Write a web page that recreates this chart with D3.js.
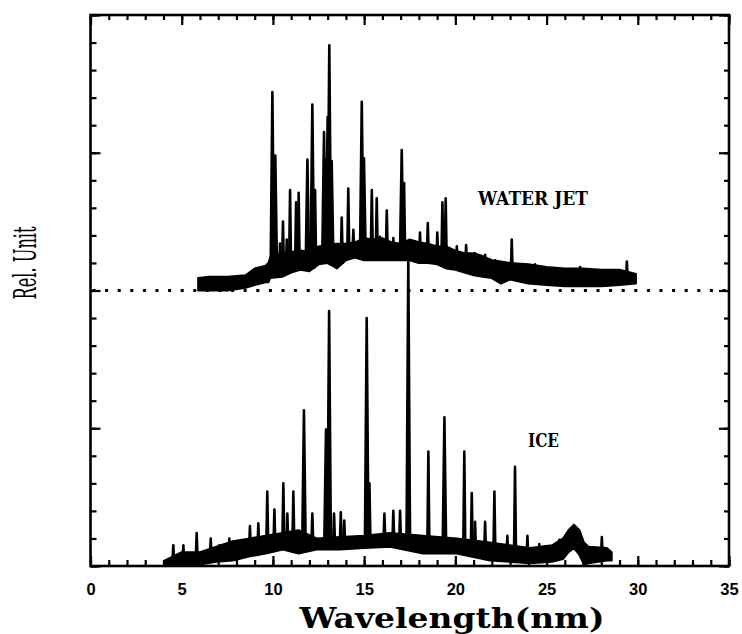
<!DOCTYPE html>
<html>
<head>
<meta charset="utf-8">
<script src="https://cdn.jsdelivr.net/npm/d3@7"></script>
<style>
    body { margin: 0; background: #fff; }
    svg { display: block; }
</style>
</head>
<body>
<div id="chart-container"></div>
<script>
// x axis ticks (nm)
var xMajor = [0, 5, 10, 15, 20, 25, 30, 35];

// WATER JET, drawn on top of the dotted line at 2 rel. units
var waterOffset = 2;
var waterBandW = [5.9, 6.5, 7.5, 8.5, 9.0, 9.6, 9.75, 9.85, 10.5, 11.0, 11.5, 12.0, 12.5, 13.0, 13.5, 14.0, 14.5, 15.0, 15.5, 16.0, 16.5, 17.0, 17.5, 18.0, 18.5, 19.0, 19.5, 20.0, 20.5, 21.0, 21.5, 22.0, 22.5, 23.0, 24.0, 25.0, 26.0, 27.0, 28.0, 29.0, 29.9];
var waterBandHi = [0.09, 0.10, 0.10, 0.11, 0.16, 0.18, 0.20, 0.24, 0.27, 0.28, 0.29, 0.28, 0.32, 0.33, 0.34, 0.34, 0.35, 0.38, 0.37, 0.38, 0.35, 0.34, 0.37, 0.35, 0.34, 0.32, 0.32, 0.29, 0.27, 0.27, 0.25, 0.22, 0.21, 0.20, 0.19, 0.17, 0.16, 0.16, 0.15, 0.15, 0.12];
var waterBandLo = [0.00, 0.00, 0.00, 0.02, 0.04, 0.06, 0.06, 0.09, 0.10, 0.13, 0.15, 0.14, 0.19, 0.20, 0.16, 0.22, 0.24, 0.22, 0.22, 0.22, 0.22, 0.22, 0.22, 0.20, 0.20, 0.19, 0.16, 0.15, 0.13, 0.11, 0.10, 0.09, 0.05, 0.08, 0.05, 0.04, 0.03, 0.03, 0.03, 0.04, 0.05];
var waterPeakW = [9.97, 10.13, 10.39, 10.55, 10.76, 10.94, 11.27, 11.41, 11.89, 12.16, 12.31, 12.80, 12.91, 13.00, 13.09, 13.22, 13.77, 14.13, 14.41, 14.87, 14.99, 15.42, 15.69, 15.87, 16.24, 16.60, 17.06, 17.19, 18.06, 18.49, 19.01, 19.29, 19.47, 20.08, 20.59, 21.08, 21.63, 22.18, 23.09, 24.37, 26.84, 29.4];
var waterPeakH = [1.44, 0.98, 0.34, 0.50, 0.37, 0.73, 0.64, 0.71, 0.95, 1.35, 0.73, 1.15, 0.95, 1.26, 1.78, 0.94, 0.53, 0.74, 0.44, 1.37, 0.96, 0.73, 0.67, 0.39, 0.58, 0.38, 1.02, 0.78, 0.42, 0.49, 0.42, 0.64, 0.67, 0.32, 0.33, 0.27, 0.26, 0.22, 0.37, 0.19, 0.17, 0.21];

// ICE, drawn from 0
var iceOffset = 0;
var iceBandW = [4.08, 5.0, 6.0, 6.9, 7.8, 8.74, 9.6, 10.55, 11.4, 12.4, 13.68, 15.0, 16.42, 18.23, 20.08, 21.9, 24.1, 25.3, 25.9, 26.2, 26.5, 26.8, 27.05, 27.3, 28.3, 28.57];
var iceBandHi = [0.04, 0.10, 0.10, 0.14, 0.18, 0.20, 0.22, 0.24, 0.26, 0.20, 0.21, 0.22, 0.24, 0.22, 0.20, 0.17, 0.13, 0.15, 0.20, 0.26, 0.30, 0.26, 0.17, 0.14, 0.13, 0.10];
var iceBandLo = [0.00, 0.01, 0.01, 0.03, 0.04, 0.07, 0.09, 0.12, 0.09, 0.12, 0.12, 0.13, 0.14, 0.09, 0.09, 0.04, 0.02, 0.03, 0.05, 0.10, 0.13, 0.08, 0.01, 0.02, 0.04, 0.04];
var icePeakW = [4.54, 5.09, 5.82, 6.59, 7.06, 7.61, 8.74, 9.20, 9.69, 10.08, 10.57, 10.79, 11.12, 11.70, 12.16, 12.91, 13.08, 13.35, 13.72, 13.91, 15.14, 15.29, 16.11, 16.60, 16.97, 17.42, 18.52, 19.40, 20.49, 20.90, 21.08, 21.63, 22.14, 22.85, 23.27, 23.95, 24.6, 25.7, 28.03];
var icePeakH = [0.15, 0.15, 0.24, 0.20, 0.15, 0.20, 0.29, 0.31, 0.54, 0.41, 0.60, 0.38, 0.54, 1.13, 0.38, 0.99, 1.85, 0.38, 0.39, 0.33, 1.80, 0.60, 0.38, 0.40, 0.40, 2.23, 0.83, 1.08, 0.83, 0.53, 0.32, 0.32, 0.54, 0.22, 0.72, 0.22, 0.16, 0.19, 0.21];

var width = 742,
    height = 634,
    x = d3.scaleLinear().domain([0, 35]).range([90.5, 729]),
    y = d3.scaleLinear().domain([0, 4]).range([566, 15]),
    serif = "'DejaVu Serif', 'Liberation Serif', serif";

var svg = d3.select("#chart-container")
    .append("svg")
    .attr("width", width)
    .attr("height", height);

// dotted separator at the water jet zero level
svg.append("line")
    .attr("x1", x(0) + 2)
    .attr("x2", x(35))
    .attr("y1", y(waterOffset))
    .attr("y2", y(waterOffset))
    .style("stroke", "#000")
    .style("stroke-width", 3)
    .style("stroke-dasharray", "3,9.6");

function drawSpectrum(bandW, bandHi, bandLo, peakW, peakH, offset) {
    var band = bandW.map(function (w, i) {
        return { w: w, hi: bandHi[i], lo: bandLo[i] };
    });
    var loAt = d3.scaleLinear().domain(bandW).range(bandLo).clamp(true);

    var area = d3.area()
        .x(function (d) { return x(d.w); })
        .y0(function (d) { return y(d.lo + offset); })
        .y1(function (d) { return y(d.hi + offset); });

    svg.append("path")
        .datum(band)
        .attr("d", area)
        .style("fill", "#000")
        .style("stroke", "#000")
        .style("stroke-width", 2)
        .style("stroke-linejoin", "round");

    var line = d3.line()
        .x(function (d) { return x(d[0]); })
        .y(function (d) { return y(d[1]); });

    svg.selectAll(null)
        .data(peakW)
        .enter()
        .append("path")
        .attr("d", function (w, i) {
            var base = loAt(w) + offset,
                top = peakH[i] + offset,
                hw = peakH[i] > 0.9 ? 0.1 : 0.06;
            return line([[w - hw, base], [w, top], [w + hw, base]]);
        })
        .style("fill", "#000")
        .style("stroke", "#000")
        .style("stroke-width", 2.6)
        .style("stroke-linejoin", "round");
}

drawSpectrum(iceBandW, iceBandHi, iceBandLo, icePeakW, icePeakH, iceOffset);
drawSpectrum(waterBandW, waterBandHi, waterBandLo, waterPeakW, waterPeakH, waterOffset);

// axes, all ticks pointing inside the frame
var minorX = d3.range(0, 36, 1),
    minorY = d3.range(0, 4.01, 0.2);

function styleAxis(g) {
    g.select(".domain").remove();
    g.selectAll(".tick line").style("stroke", "#000").style("stroke-width", 2.2);
}

svg.append("g").attr("transform", "translate(0," + y(0) + ")")
    .call(d3.axisBottom(x).tickValues(minorX).tickSize(-6).tickFormat(""))
    .call(styleAxis);
svg.append("g").attr("transform", "translate(0," + y(0) + ")")
    .call(d3.axisBottom(x).tickValues(xMajor).tickSize(-10).tickPadding(17).tickFormat(d3.format("d")))
    .call(styleAxis)
    .selectAll("text")
    .style("font-family", "'Liberation Sans', Arial, sans-serif")
    .style("font-weight", "bold")
    .style("font-size", "16.5px")
    .style("fill", "#000");

svg.append("g").attr("transform", "translate(0," + y(4) + ")")
    .call(d3.axisTop(x).tickValues(minorX).tickSize(-5).tickFormat(""))
    .call(styleAxis);
svg.append("g").attr("transform", "translate(0," + y(4) + ")")
    .call(d3.axisTop(x).tickValues(xMajor).tickSize(-10).tickFormat(""))
    .call(styleAxis);

svg.append("g").attr("transform", "translate(" + x(0) + ",0)")
    .call(d3.axisLeft(y).tickValues(minorY).tickSize(-6).tickFormat(""))
    .call(styleAxis);
svg.append("g").attr("transform", "translate(" + x(0) + ",0)")
    .call(d3.axisLeft(y).tickValues([0, 1, 2, 3, 4]).tickSize(-10).tickFormat(""))
    .call(styleAxis);

svg.append("g").attr("transform", "translate(" + x(35) + ",0)")
    .call(d3.axisRight(y).tickValues(minorY).tickSize(-5).tickFormat(""))
    .call(styleAxis);
svg.append("g").attr("transform", "translate(" + x(35) + ",0)")
    .call(d3.axisRight(y).tickValues([0, 1, 2, 3, 4]).tickSize(-10).tickFormat(""))
    .call(styleAxis);

// frame
svg.append("rect")
    .attr("x", x(0))
    .attr("y", y(4))
    .attr("width", x(35) - x(0))
    .attr("height", y(0) - y(4))
    .style("fill", "none")
    .style("stroke", "#000")
    .style("stroke-width", 2.6);

// labels
svg.append("text")
    .attr("x", 533)
    .attr("y", 205)
    .attr("text-anchor", "middle")
    .attr("textLength", 110)
    .attr("lengthAdjust", "spacingAndGlyphs")
    .style("font-family", serif)
    .style("font-weight", "bold")
    .style("font-size", "18px")
    .text("WATER  JET");

svg.append("text")
    .attr("x", 543.5)
    .attr("y", 446.5)
    .attr("text-anchor", "middle")
    .attr("textLength", 31)
    .attr("lengthAdjust", "spacingAndGlyphs")
    .style("font-family", serif)
    .style("font-weight", "bold")
    .style("font-size", "18.5px")
    .text("ICE");

svg.append("text")
    .attr("x", 452)
    .attr("y", 628)
    .attr("text-anchor", "middle")
    .attr("textLength", 305)
    .attr("lengthAdjust", "spacingAndGlyphs")
    .style("font-family", serif)
    .style("font-weight", "bold")
    .style("font-size", "28px")
    .text("Wavelength(nm)");

svg.append("text")
    .attr("transform", "translate(36,263) rotate(-90)")
    .attr("text-anchor", "middle")
    .attr("textLength", 73)
    .attr("lengthAdjust", "spacingAndGlyphs")
    .style("font-family", serif)
    .style("font-size", "31px")
    .text("Rel. Unit");
</script>
</body>
</html>
